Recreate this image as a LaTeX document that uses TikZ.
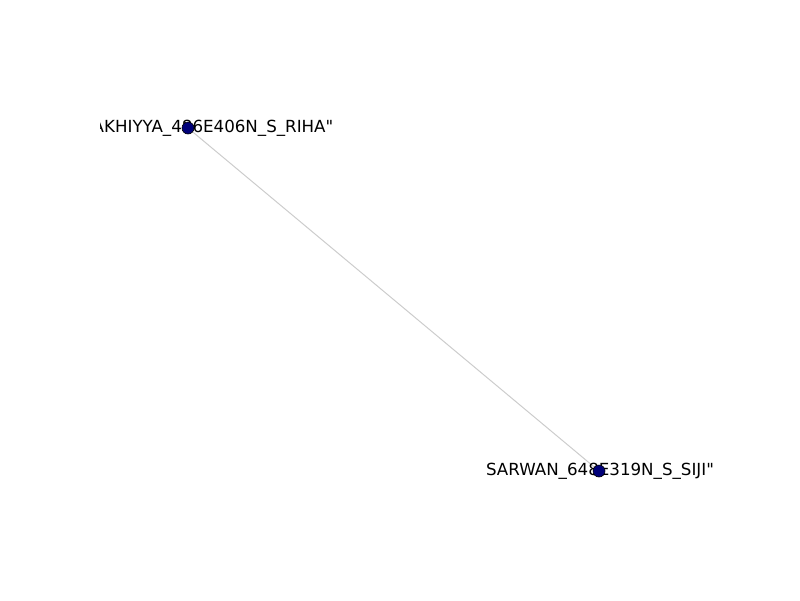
\documentclass[tikz,border=0pt]{standalone}
\usepackage{fontspec}
\newfontfamily\lblfont{DejaVu Sans}
\begin{document}
\begin{tikzpicture}[x=1pt,y=-1pt,
  vert/.style={circle,draw=black,line width=0.6pt,fill=navyblue,minimum size=12pt,inner sep=0pt},
  conn/.style={draw=edgegray,line width=1pt},
  lbl/.style={inner sep=0pt,font=\lblfont\fontsize{16.67}{20}\selectfont,text=black}]
\definecolor{navyblue}{RGB}{0,0,120}
\definecolor{edgegray}{RGB}{204,204,204}
\useasboundingbox (0,0) rectangle (800,600);
\begin{scope}
\clip (100,72) rectangle (720,534);
\coordinate (a) at (188,128);
\coordinate (b) at (599,471);
\draw[conn] (a) -- (b);
\node[lbl,anchor=east] (la) at (333.5,128) {AKHIYYA\_486E406N\_S\_RIHA"};
\node[lbl] (lb) at (600,471) {SARWAN\_648E319N\_S\_SIJI"};
\node[vert] (na) at (a) {};
\node[vert] (nb) at (b) {};
\end{scope}
\end{tikzpicture}
\end{document}
